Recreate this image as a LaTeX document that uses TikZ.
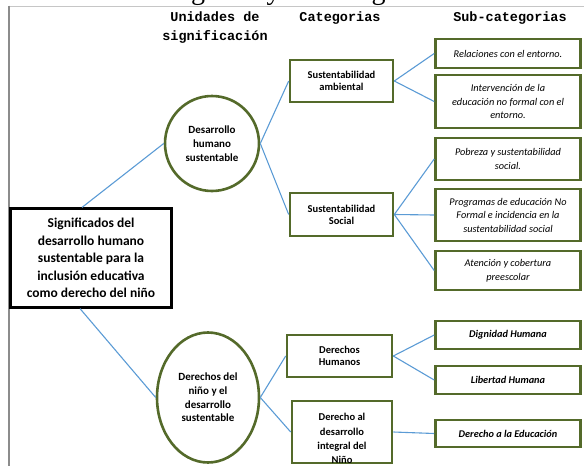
\documentclass[tikz,border=0pt]{standalone}
\usepackage{fontspec}
\setmainfont{Carlito}
\newfontfamily\headfont{Liberation Mono}
\newfontfamily\titlefont{Liberation Serif}
\usepackage{tikz}
\usetikzlibrary{shapes.geometric,calc}
\definecolor{boxgreen}{RGB}{84,106,42}
\definecolor{linkblue}{RGB}{91,155,213}
\definecolor{framegray}{RGB}{140,140,140}

\begin{document}
\begin{tikzpicture}[x=1pt,y=-1pt,
    mainbox/.style={draw=black,line width=2.2pt,align=center,inner sep=2pt,
        font=\bfseries\fontsize{13.5}{17.5}\selectfont,minimum width=161pt,minimum height=99pt},
    unitcirc/.style={ellipse,draw=boxgreen,line width=2.6pt,align=center,inner sep=0pt,
        font=\bfseries\fontsize{11}{13.7}\selectfont},
    catbox/.style={draw=boxgreen,line width=2.6pt,align=center,inner sep=0pt,
        font=\bfseries\fontsize{10.5}{12}\selectfont},
    subbox/.style={draw=boxgreen,line width=2.6pt,align=center,inner sep=0pt,
        font=\itshape\fontsize{10.3}{13.5}\selectfont,minimum width=145pt},
    subbold/.style={subbox,font=\bfseries\itshape\fontsize{10.3}{13.5}\selectfont},
    link/.style={draw=linkblue,line width=1.1pt},
    header/.style={font=\headfont\bfseries\fontsize{13.5}{19}\selectfont,align=center}]
                \useasboundingbox (0,0) rectangle (584,466);
                %Title (cut off at the top)
                \node[font=\titlefont\fontsize{28}{30}\selectfont,anchor=base] (title) at (293,-0.5) {categorías y subcategorías};
                %Frame
                \draw[framegray!50,line width=0.8pt] (9,6) -- (584,6);
                \draw[framegray,line width=1.6pt] (9,5.6) -- (9,466);
                %Headers
                \node[header] (hunit) at (215,27.5) {Unidades de\\significación};
                \node[header] (hcat) at (340,18) {Categorias};
                \node[header] (hsub) at (510,18) {Sub-categorias};
                %Main box
                \node[mainbox] (main) at (91,258) {Significados del\\desarrollo humano\\sustentable para la\\inclusión educativa\\como derecho del niño};
                %Units
                \node[unitcirc,minimum width=94pt,minimum height=95pt] (dhs) at (212,143.5) {Desarrollo\\humano\\sustentable};
                \node[unitcirc,minimum width=102pt,minimum height=130pt] (dnds) at (208,397.5) {Derechos del\\niño y el\\desarrollo\\sustentable};
                %Categories
                \node[catbox,minimum width=103pt,minimum height=42pt] (samb) at (341.5,81) {Sustentabilidad\\ambiental};
                \node[catbox,minimum width=103pt,minimum height=43pt] (ssoc) at (341.5,214.5) {Sustentabilidad\\Social};
                \node[catbox,minimum width=105pt,minimum height=42pt] (dhum) at (339.5,356) {Derechos\\Humanos};
                \node[catbox,minimum width=100pt,minimum height=62pt] (dint) at (342,432) {};
                \node[font=\bfseries\fontsize{10.5}{14.3}\selectfont,align=center] (dinttext) at (342,438.5) {Derecho al\\desarrollo\\integral del\\Niño};
                %Sub-categories
                \node[subbox,minimum height=29pt] (rel) at (508,53.5) {Relaciones con el entorno.};
                \node[subbox,minimum height=53pt] (interv) at (508,101.5) {Intervención de la\\educación no formal con el\\entorno.};
                \node[subbox,minimum height=42pt] (pobr) at (508,159) {Pobreza y sustentabilidad\\social.};
                \node[subbox,minimum height=52pt] (prog) at (508,215) {Programas de educación No\\Formal e incidencia en la\\sustentabilidad social};
                \node[subbox,minimum height=39pt] (aten) at (508,270.5) {Atención y cobertura\\preescolar};
                \node[subbold,minimum height=28pt] (dign) at (508,335) {Dignidad Humana};
                \node[subbold,minimum height=28pt] (libe) at (508,380) {Libertad Humana};
                \node[subbold,minimum height=27pt] (educ) at (508,433.5) {Derecho a la Educación};
                %Draw edges
                \draw[link] ([xshift=-9pt]main.north) -- (dhs.west);
                \draw[link] ([xshift=-11pt]main.south) -- (dnds.west);
                \draw[link] (dhs.east) -- (samb.west);
                \draw[link] (dhs.east) -- (ssoc.west);
                \draw[link] (dnds.east) -- (dhum.west);
                \draw[link] (dnds.east) -- (dint.west);
                \foreach \s in {rel,interv}
                    \draw[link] (samb.east) -- (\s.west);
                \foreach \s in {pobr,prog,aten}
                    \draw[link] (ssoc.east) -- (\s.west);
                \foreach \s in {dign,libe}
                    \draw[link] (dhum.east) -- (\s.west);
                \draw[link] (dint.east) -- (educ.west);
            \end{tikzpicture}
\end{document}
